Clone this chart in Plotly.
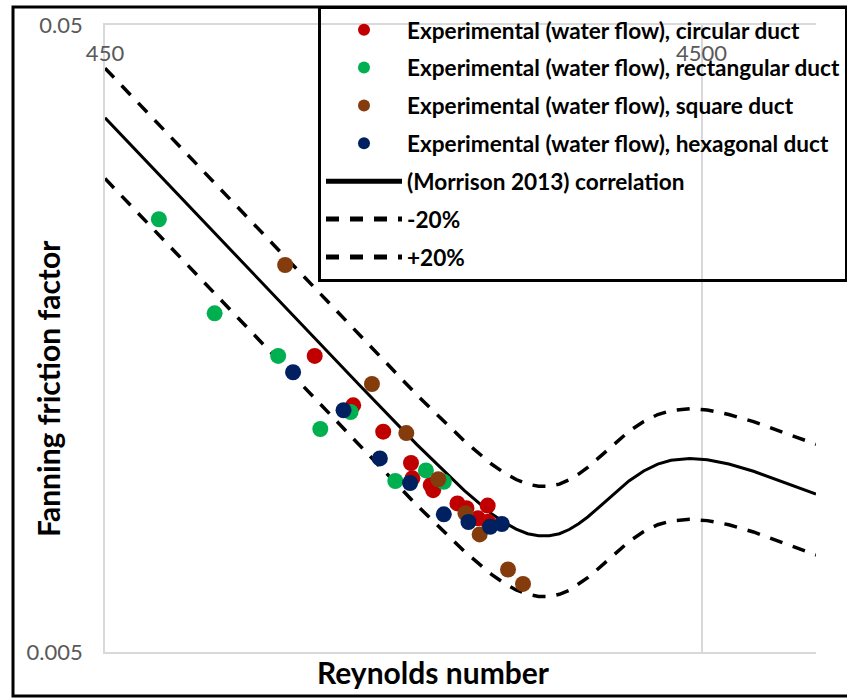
import plotly.graph_objects as go

# ---- data ----
re_corr = [450, 600, 800, 1000, 1200, 1500, 1800, 2000, 2100, 2200, 2300, 2400, 2500, 2600,
           2700, 2800, 2900, 3000, 3100, 3200, 3400, 3600, 3800, 4000, 4300, 4600, 5000,
           5500, 6000, 6500, 7000]
f_corr = [0.03556, 0.02667, 0.02000, 0.01600, 0.01334, 0.01071, 0.00905, 0.00831, 0.00805,
          0.00785, 0.00772, 0.00766, 0.00766, 0.00772, 0.00784, 0.00801, 0.00821, 0.00844,
          0.00868, 0.00892, 0.00937, 0.00972, 0.00997, 0.01011, 0.01018, 0.01013, 0.00997,
          0.00971, 0.00943, 0.00917, 0.00893]
f_plus20 = [0.04267, 0.03200, 0.02400, 0.01920, 0.01601, 0.01285, 0.01086, 0.00997, 0.00966,
            0.00942, 0.00926, 0.00919, 0.00919, 0.00926, 0.00941, 0.00961, 0.00985, 0.01013,
            0.01042, 0.01070, 0.01124, 0.01166, 0.01196, 0.01213, 0.01222, 0.01216, 0.01196,
            0.01165, 0.01132, 0.01100, 0.01072]
f_minus20 = [0.02845, 0.02134, 0.01600, 0.01280, 0.01067, 0.00857, 0.00724, 0.00665, 0.00644,
             0.00628, 0.00618, 0.00613, 0.00613, 0.00618, 0.00627, 0.00641, 0.00657, 0.00675,
             0.00694, 0.00714, 0.00750, 0.00778, 0.00798, 0.00809, 0.00814, 0.00810, 0.00798,
             0.00777, 0.00754, 0.00734, 0.00714]

re_circ = [1011, 1173, 1317, 1466, 1474, 1582, 1597, 1754, 1971, 1816, 1899, 1973]
f_circ = [0.01483, 0.01237, 0.01123, 0.01001, 0.00946, 0.00923, 0.00906, 0.00863, 0.00856,
          0.00848, 0.00817, 0.00807]

re_rect = [554, 687, 878, 1161, 1033, 1380, 1553, 1664]
f_rect = [0.02450, 0.01734, 0.01483, 0.01207, 0.01134, 0.00937, 0.00974, 0.00934]

re_sq = [902, 1261, 1440, 1629, 1809, 1911, 2132, 2259]
f_sq = [0.02071, 0.01338, 0.01117, 0.00943, 0.00832, 0.00770, 0.00677, 0.00642]

re_hex = [930, 1130, 1300, 1461, 1664, 1830, 1990, 2082]
f_hex = [0.01397, 0.01215, 0.01018, 0.00930, 0.00829, 0.00806, 0.00792, 0.00800]

x_ticks = [450, 4500]
x_tick_text = ["450", "4500"]
y_ticks = [0.005, 0.05]
y_tick_text = ["0.005", "0.05"]

names = ["Experimental (water flow), circular duct",
         "Experimental (water flow), rectangular duct",
         "Experimental (water flow), square duct",
         "Experimental (water flow), hexagonal duct",
         "(Morrison 2013) correlation", "-20%", "+20%"]

FONT = "Lato"
GRID = "#D9D9D9"
fig = go.Figure()

# lines first (drawn under markers)
fig.add_trace(go.Scatter(x=re_corr, y=f_corr, mode="lines", name=names[4], legendrank=5,
                         legendgroup="g5", line=dict(color="black", width=3)))
fig.add_trace(go.Scatter(x=re_corr, y=f_minus20, mode="lines", name=names[5], legendrank=6,
                         legendgroup="g6", line=dict(color="black", width=3.5, dash="13px,11px")))
fig.add_trace(go.Scatter(x=re_corr, y=f_plus20, mode="lines", name=names[6], legendrank=7,
                         legendgroup="g7", line=dict(color="black", width=3.5, dash="13px,11px")))

series = [(re_circ, f_circ, "#C00000"), (re_rect, f_rect, "#00B050"),
          (re_sq, f_sq, "#843C0C"), (re_hex, f_hex, "#002060")]
for i, (xs, ys, col) in enumerate(series):
    fig.add_trace(go.Scatter(x=xs, y=ys, mode="markers", name=names[i], legendrank=i + 1,
                             legendgroup="g%d" % (i + 1),
                             marker=dict(color=col, size=16, line=dict(width=0))))

W, H = 847, 698
L, R, T, B = 105, 816, 25, 652
pw, ph = R - L, B - T

def px(x):
    return (x - L) / pw

def py(y):
    return (B - y) / ph

fig.update_layout(
    width=W, height=H,
    margin=dict(l=L, r=W - R, t=T, b=H - B, autoexpand=False),
    paper_bgcolor="white", plot_bgcolor="white",
    font=dict(family=FONT, color="black"),
    showlegend=True,
    legend=dict(x=px(318), y=py(5.5), xanchor="left", yanchor="top",
                bgcolor="rgba(0,0,0,0)", bordercolor="black", borderwidth=3,
                font=dict(family=FONT, size=22.6, color="black", weight="bold"),
                tracegroupgap=5.5, itemwidth=76, itemsizing="constant"),
    xaxis=dict(type="log", range=[2.6532, 3.8451], side="top",
               tickvals=x_ticks, ticktext=x_tick_text, ticks="",
               ticklabelposition="inside", ticklabeloverflow="allow",
               ticklabelstandoff=22,
               tickfont=dict(family=FONT, size=22, color="#595959"),
               showgrid=True, gridcolor=GRID, gridwidth=1.5,
               showline=True, linecolor=GRID, linewidth=1.5, mirror=True,
               zeroline=False),
    yaxis=dict(type="log", range=[-2.30103, -1.30103],
               tickvals=y_ticks, ticktext=y_tick_text, ticks="",
               ticklabelstandoff=16,
               tickfont=dict(family=FONT, size=22, color="#595959"),
               showgrid=True, gridcolor=GRID, gridwidth=1.5,
               showline=True, linecolor=GRID, linewidth=1.5,
               zeroline=False),
    annotations=[
        dict(text="<b>Reynolds number</b>", x=px(433), y=py(672), xref="paper", yref="paper",
             showarrow=False, font=dict(family=FONT, size=30, color="black"),
             xanchor="center", yanchor="middle"),
        dict(text="<b>Fanning friction factor</b>", x=px(48), y=py(389), xref="paper",
             yref="paper", showarrow=False, textangle=-90,
             font=dict(family=FONT, size=30, color="black"),
             xanchor="center", yanchor="middle"),
    ],
    shapes=[
        dict(type="rect", xref="paper", yref="paper", x0=px(13), x1=px(900), y0=py(696),
             y1=py(7), line=dict(color="black", width=3), fillcolor="rgba(0,0,0,0)",
             layer="below"),
    ],
)

fig.write_html("out.html", config={"displayModeBar": False},
               post_script="document.body.style.margin='0px';document.body.style.overflow='hidden';")
